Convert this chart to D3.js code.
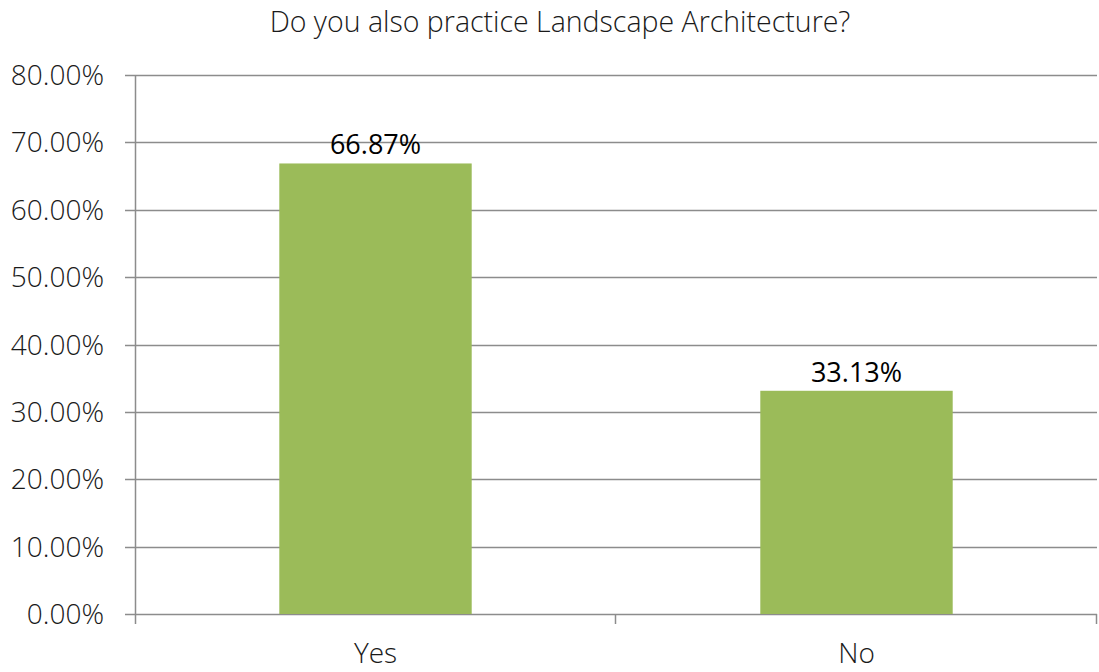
<!DOCTYPE html>
<html>
<head>
<meta charset="utf-8">
<script src="https://cdn.jsdelivr.net/npm/d3@7"></script>
<style>
  html, body { margin: 0; padding: 0; background: #fff; }
  svg { display: block; }
</style>
</head>
<body>
<svg id="chart" width="1099" height="672"></svg>
<script>
const title = "Do you also practice Landscape Architecture?";
const categories = ["Yes", "No"];
const values = [66.87, 33.13];
const yTicks = [0, 10, 20, 30, 40, 50, 60, 70, 80];

const svg = d3.select("#chart");
const margin = { left: 135, right: 2, top: 75, bottom: 58 };
const W = 1099, H = 672;
const font = "'Open Sans', 'Noto Sans', sans-serif";

const x = d3.scaleBand().domain(categories).range([margin.left, W - margin.right]).paddingInner(0).paddingOuter(0);
const y = d3.scaleLinear().domain([0, 80]).range([H - margin.bottom, margin.top]);

// gridlines + y ticks
const gridG = svg.append("g");
gridG.selectAll("line").data(yTicks).join("line")
  .attr("x1", margin.left - 10).attr("x2", W - margin.right)
  .attr("y1", d => Math.round(y(d)) + 0.5).attr("y2", d => Math.round(y(d)) + 0.5)
  .attr("stroke", "#8c8c8c").attr("stroke-width", 1.5);

// y axis line
svg.append("line")
  .attr("x1", margin.left + 0.5).attr("x2", margin.left + 0.5)
  .attr("y1", y(80)).attr("y2", y(0) + 10)
  .attr("stroke", "#8c8c8c").attr("stroke-width", 1.5);

// x category ticks
const xTickPos = [margin.left, margin.left + x.bandwidth(), W - margin.right];
svg.append("g").selectAll("line").data(xTickPos.slice(1)).join("line")
  .attr("x1", d => d - 0.5).attr("x2", d => d - 0.5)
  .attr("y1", y(0)).attr("y2", y(0) + 10)
  .attr("stroke", "#8c8c8c").attr("stroke-width", 1.5);

// y tick labels
svg.append("g").selectAll("text").data(yTicks).join("text")
  .attr("x", 104).attr("y", d => y(d))
  .attr("dy", "0.36em")
  .attr("text-anchor", "end")
  .attr("font-family", font).attr("font-weight", 300).attr("font-size", 28)
  .attr("fill", "#1a1a1a")
  .text(d => d.toFixed(2) + "%");

// bars
const barW = x.bandwidth() * 0.4;
svg.append("g").selectAll("rect").data(values).join("rect")
  .attr("x", (d, i) => x(categories[i]) + (x.bandwidth() - barW) / 2)
  .attr("width", barW)
  .attr("y", d => y(d))
  .attr("height", d => y(0) - y(d))
  .attr("fill", "#9bbb59");

// data labels
svg.append("g").selectAll("text").data(values).join("text")
  .attr("x", (d, i) => x(categories[i]) + x.bandwidth() / 2)
  .attr("y", d => y(d) - 9)
  .attr("text-anchor", "middle")
  .attr("font-family", font).attr("font-weight", 400).attr("font-size", 27)
  .attr("fill", "#000")
  .text(d => d.toFixed(2) + "%");

// x labels
svg.append("g").selectAll("text").data(categories).join("text")
  .attr("x", d => x(d) + x.bandwidth() / 2)
  .attr("y", 663)
  .attr("text-anchor", "middle")
  .attr("font-family", font).attr("font-weight", 300).attr("font-size", 28)
  .attr("fill", "#1a1a1a")
  .text(d => d);

// title
svg.append("text")
  .attr("x", 560).attr("y", 32)
  .attr("text-anchor", "middle")
  .attr("font-family", font).attr("font-weight", 300).attr("font-size", 28.5)
  .attr("fill", "#1a1a1a")
  .text(title);
</script>
</body>
</html>
